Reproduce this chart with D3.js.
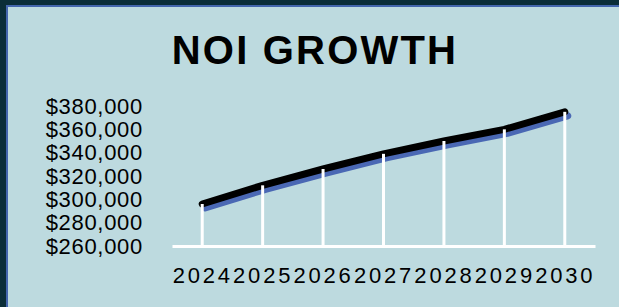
<!DOCTYPE html>
<html>
<head>
<meta charset="utf-8">
<title>NOI Growth</title>
<script src="https://cdnjs.cloudflare.com/ajax/libs/d3/7.6.1/d3.min.js"></script>
<style>
  body { margin: 0; background: #bddadf; }
  svg { display: block; font-family: "Liberation Sans", Arial, sans-serif; }
</style>
</head>
<body>
<svg width="619" height="307"></svg>
<script>

// --- data ---
let years  = ['2024', '2025', '2026', '2027', '2028', '2029', '2030'];
let noi    = [296000, 312000, 326000, 339000, 350000, 360000, 375000];
let yTicks = [260000, 280000, 300000, 320000, 340000, 360000, 380000];

let svg = d3.select('svg');

// background + frame (dark border on top/left with a thin blue rule)
svg.append('rect').attr('width', 619).attr('height', 307).attr('fill', '#0b2d38');
svg.append('rect').attr('x', 6).attr('y', 5).attr('width', 613).attr('height', 302).attr('fill', '#4466ad');
svg.append('rect').attr('x', 8).attr('y', 7).attr('width', 611).attr('height', 300).attr('fill', '#bddadf');

svg.append('text')
   .attr('x', 315)
   .attr('y', 64)
   .attr('text-anchor', 'middle')
   .attr('font-size', 40)
   .attr('font-weight', 'bold')
   .attr('letter-spacing', 2.2)
   .attr('fill', '#000')
   .text('NOI GROWTH');

let x = d3.scalePoint().domain(years).range([172, 595]).padding(0.5);
let y = d3.scaleLinear().domain([260000, 380000]).range([246, 106]);

let data = years.map((yr, i) => ({year: yr, val: noi[i]}));

// y axis labels
let yAxis = svg.append('g')
   .attr('transform', 'translate(143,0)')
   .call(d3.axisLeft(y).tickValues(yTicks).tickSize(0).tickPadding(0)
           .tickFormat(d => '$' + d3.format(',')(d)));
yAxis.select('.domain').remove();
yAxis.selectAll('text')
   .attr('font-size', 22)
   .attr('font-family', '"Liberation Sans", Arial, sans-serif')
   .attr('letter-spacing', 0.7)
   .attr('fill', '#000');

// x axis
let xAxis = svg.append('g')
   .attr('transform', 'translate(0,246)')
   .call(d3.axisBottom(x).tickSize(0).tickSizeOuter(0).tickPadding(21));
xAxis.select('.domain').attr('stroke', '#fff').attr('stroke-width', 3);
xAxis.selectAll('text')
   .attr('font-size', 22)
   .attr('font-family', '"Liberation Sans", Arial, sans-serif')
   .attr('letter-spacing', 2.8)
   .attr('fill', '#000');

let line = d3.line().x(d => x(d.year)).y(d => y(d.val));

// shadow
svg.append('path')
   .datum(data)
   .attr('d', line)
   .attr('transform', 'translate(3,4)')
   .attr('fill', 'none')
   .attr('stroke', '#4a68b4')
   .attr('stroke-width', 7)
   .attr('stroke-linecap', 'round')
   .attr('stroke-linejoin', 'round');

svg.append('path')
   .datum(data)
   .attr('d', line)
   .attr('fill', 'none')
   .attr('stroke', '#000')
   .attr('stroke-width', 7)
   .attr('stroke-linecap', 'round')
   .attr('stroke-linejoin', 'round');

// drop lines
svg.selectAll('line.drop')
   .data(data)
   .enter()
   .append('line')
   .attr('class', 'drop')
   .attr('x1', d => x(d.year))
   .attr('x2', d => x(d.year))
   .attr('y1', d => y(d.val))
   .attr('y2', 246)
   .attr('stroke', '#fff')
   .attr('stroke-width', 3);

</script>
</body>
</html>
